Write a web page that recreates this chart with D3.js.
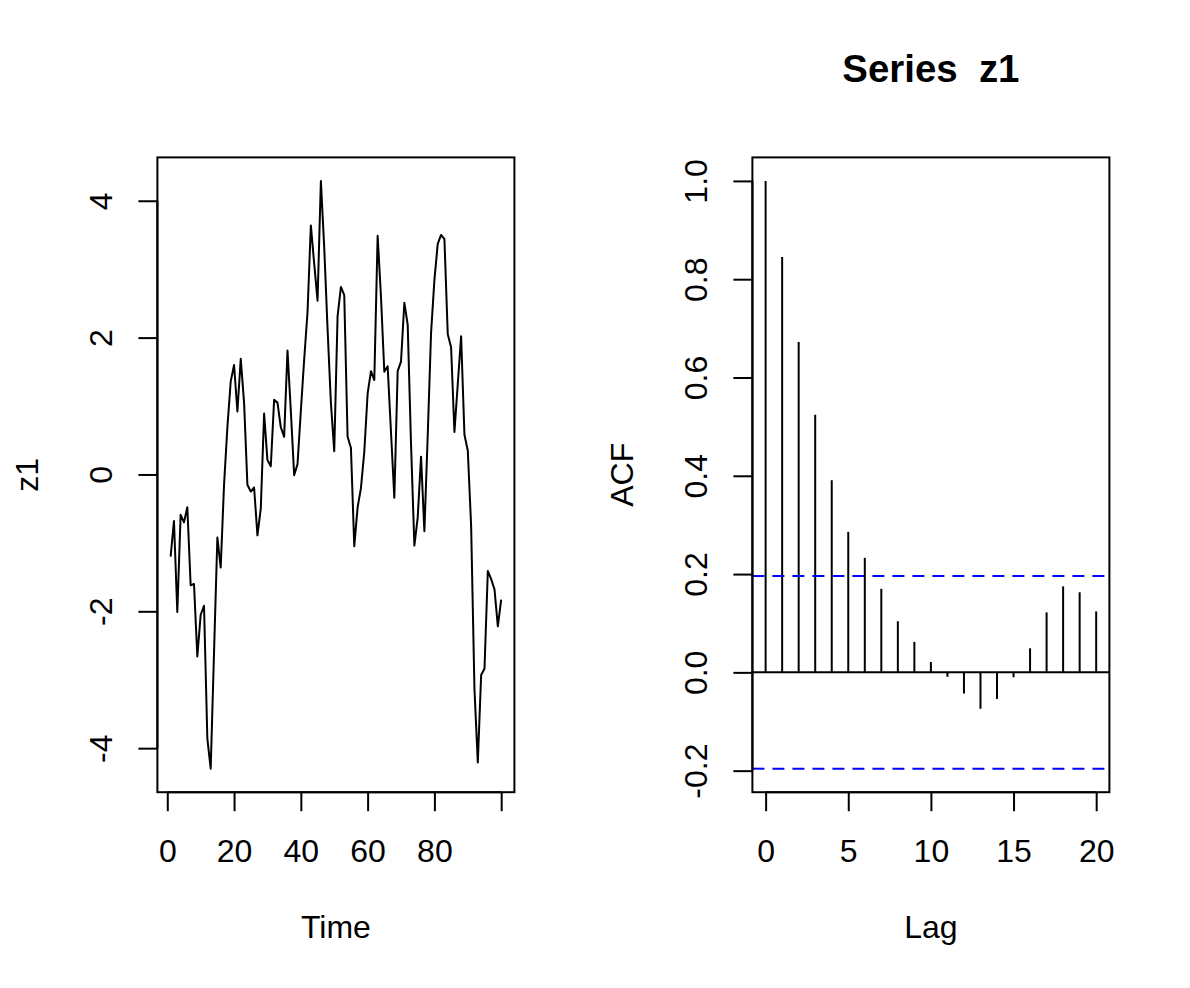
<!DOCTYPE html>
<html>
<head>
<meta charset="utf-8">
<script src="https://cdn.jsdelivr.net/npm/d3@7"></script>
<style>
  body { margin: 0; background: #fff; }
  svg { display: block; background: #fff; }
  text { font-family: "Liberation Sans", Arial, Helvetica, sans-serif; fill: #000; }
</style>
</head>
<body>
<svg id="chart" width="1190" height="988"></svg>
<script>
// ---------------- data ----------------
const z1 = [
  -1.20, -0.68, -2.01, -0.59, -0.70, -0.48, -1.62, -1.60, -2.66, -2.05,
  -1.92, -3.86, -4.30, -2.60, -0.92, -1.36, -0.15,  0.69,  1.36,  1.60,
   0.92,  1.69,  1.05, -0.15, -0.25, -0.19, -0.89, -0.50,  0.89,  0.21,
   0.12,  1.09,  1.05,  0.69,  0.55,  1.81,  0.93, -0.01,  0.15,  0.93,
   1.68,  2.37,  3.64,  3.08,  2.54,  4.29,  3.32,  2.13,  1.05,  0.34,
   2.31,  2.74,  2.62,  0.55,  0.39, -1.05, -0.48, -0.20,  0.33,  1.18,
   1.51,  1.38,  3.49,  2.60,  1.50,  1.58,  0.62, -0.34,  1.51,  1.65,
   2.51,  2.19,  0.45, -1.04, -0.63,  0.26, -0.83,  0.57,  2.07,  2.84,
   3.37,  3.50,  3.44,  2.05,  1.86,  0.62,  1.32,  2.02,  0.58,  0.35,
  -0.75, -3.14, -4.21, -2.93, -2.84, -1.41, -1.53, -1.68, -2.22, -1.83
];
const time = d3.range(1, z1.length + 1);

const lags = [0, 1, 2, 3, 4, 5, 6, 7, 8, 9, 10, 11, 12, 13, 14, 15, 16, 17, 18, 19, 20];
const acfValues = [
  1.000, 0.845, 0.672, 0.524, 0.391, 0.286, 0.233, 0.170, 0.104, 0.062, 0.021,
  -0.009, -0.043, -0.074, -0.054, -0.010, 0.049, 0.122, 0.175, 0.163, 0.124
];
const ciBound = 0.196;

const leftXTicks = [0, 20, 40, 60, 80, 100];
const leftXTickLabels = ["0", "20", "40", "60", "80", ""];
const leftYTicks = [-4, -2, 0, 2, 4];
const leftYTickLabels = ["-4", "-2", "0", "2", "4"];
const acfXTicks = [0, 5, 10, 15, 20];
const acfXTickLabels = ["0", "5", "10", "15", "20"];
const acfYTicks = [-0.2, 0.0, 0.2, 0.4, 0.6, 0.8, 1.0];
const acfYTickLabels = ["-0.2", "0.0", "0.2", "0.4", "0.6", "0.8", "1.0"];

const leftXLabel = "Time", leftYLabel = "z1";
const acfXLabel = "Lag", acfYLabel = "ACF";
const acfTitle = "Series  z1";

// ---------------- layout ----------------
const svg = d3.select("#chart");
svg.append("rect").attr("width", 1190).attr("height", 988).attr("fill", "#fff");

const FONT = 32, TITLE_FONT = 38.4, LW = 2, TICK = 19;
const panelL = { x0: 157.4, x1: 514.4, y0: 157.4, y1: 792.2 };
const panelR = { x0: 752.4, x1: 1109.4, y0: 157.4, y1: 792.2 };

function ext(lo, hi) { const d = (hi - lo) * 0.04; return [lo - d, hi + d]; }

function drawAxes(g, p, xs, ys, xt, xtl, yt, ytl, xlab, ylab) {
  const xAxis = d3.axisBottom(xs).tickValues(xt).tickSize(TICK).tickSizeOuter(0)
    .tickFormat((d, i) => xtl[i]);
  const gx = g.append("g").attr("transform", `translate(0,${p.y1})`).call(xAxis);
  gx.select(".domain").attr("d", `M${xs(xt[0])},0H${xs(xt[xt.length - 1])}`)
    .attr("stroke", "#000").attr("stroke-width", LW);
  gx.selectAll(".tick line").attr("stroke", "#000").attr("stroke-width", LW);
  gx.selectAll(".tick text").attr("y", 70).attr("dy", null)
    .attr("font-size", FONT).attr("font-family", null).attr("fill", "#000");

  const yAxis = d3.axisLeft(ys).tickValues(yt).tickSize(TICK).tickSizeOuter(0)
    .tickFormat((d, i) => ytl[i]);
  const gy = g.append("g").attr("transform", `translate(${p.x0},0)`).call(yAxis);
  gy.select(".domain").attr("d", `M0,${ys(yt[0])}V${ys(yt[yt.length - 1])}`)
    .attr("stroke", "#000").attr("stroke-width", LW);
  gy.selectAll(".tick line").attr("stroke", "#000").attr("stroke-width", LW);
  gy.selectAll(".tick text").attr("x", null).attr("dy", null)
    .attr("text-anchor", "middle").attr("transform", "translate(-45,0) rotate(-90)")
    .attr("font-size", FONT).attr("font-family", null).attr("fill", "#000");

  // box
  g.append("rect").attr("x", p.x0).attr("y", p.y0)
    .attr("width", p.x1 - p.x0).attr("height", p.y1 - p.y0)
    .attr("fill", "none").attr("stroke", "#000").attr("stroke-width", LW);

  // axis titles
  g.append("text").attr("x", (p.x0 + p.x1) / 2).attr("y", p.y1 + 146)
    .attr("text-anchor", "middle").attr("font-size", FONT).text(xlab);
  g.append("text")
    .attr("transform", `translate(${p.x0 - 119},${(p.y0 + p.y1) / 2}) rotate(-90)`)
    .attr("text-anchor", "middle").attr("font-size", FONT).text(ylab);
}

// ---------------- left: time series ----------------
{
  const p = panelL;
  const xs = d3.scaleLinear().domain(ext(d3.min(time), d3.max(time))).range([p.x0, p.x1]);
  const ys = d3.scaleLinear().domain(ext(d3.min(z1), d3.max(z1))).range([p.y1, p.y0]);
  const g = svg.append("g");
  const line = d3.line().x((d, i) => xs(time[i])).y(d => ys(d));
  g.append("path").datum(z1).attr("d", line)
    .attr("fill", "none").attr("stroke", "#000").attr("stroke-width", LW)
    .attr("stroke-linejoin", "round");
  drawAxes(g, p, xs, ys, leftXTicks, leftXTickLabels, leftYTicks, leftYTickLabels, leftXLabel, leftYLabel);
}

// ---------------- right: ACF ----------------
{
  const p = panelR;
  const xs = d3.scaleLinear().domain(ext(d3.min(lags), d3.max(lags))).range([p.x0, p.x1]);
  const ylo = Math.min(d3.min(acfValues), -ciBound), yhi = Math.max(d3.max(acfValues), ciBound);
  const ys = d3.scaleLinear().domain(ext(ylo, yhi)).range([p.y1, p.y0]);
  const g = svg.append("g");

  g.selectAll("line.spike").data(acfValues).enter().append("line")
    .attr("class", "spike")
    .attr("x1", (d, i) => xs(lags[i])).attr("x2", (d, i) => xs(lags[i]))
    .attr("y1", ys(0)).attr("y2", d => ys(d))
    .attr("stroke", "#000").attr("stroke-width", LW);

  g.append("line").attr("x1", p.x0).attr("x2", p.x1).attr("y1", ys(0)).attr("y2", ys(0))
    .attr("stroke", "#000").attr("stroke-width", LW);

  [ciBound, -ciBound].forEach(c => {
    g.append("line").attr("x1", p.x0).attr("x2", p.x1).attr("y1", ys(c)).attr("y2", ys(c))
      .attr("stroke", "#0000ff").attr("stroke-width", LW).attr("stroke-dasharray", "12,8");
  });

  drawAxes(g, p, xs, ys, acfXTicks, acfXTickLabels, acfYTicks, acfYTickLabels, acfXLabel, acfYLabel);

  g.append("text").attr("x", (p.x0 + p.x1) / 2).attr("y", 82)
    .attr("text-anchor", "middle").attr("font-size", TITLE_FONT).attr("font-weight", "bold")
    .style("white-space", "pre").text(acfTitle);
}
</script>
</body>
</html>
